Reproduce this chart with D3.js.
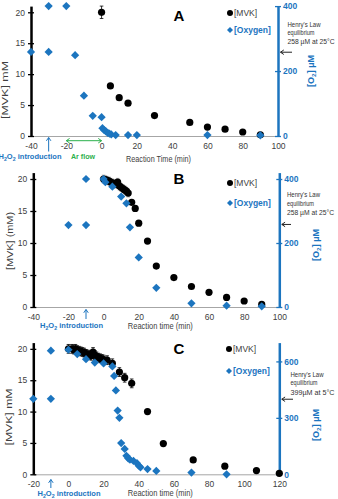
<!DOCTYPE html>
<html>
<head>
<meta charset="utf-8">
<script src="https://cdn.jsdelivr.net/npm/d3@7"></script>
<style>
  body { margin: 0; background: #fff; }
  text { font-family: "Liberation Sans", Arial, sans-serif; }
</style>
</head>
<body>
<svg id="chart" width="338" height="499"></svg>
<script>
// ---- data ----
const mvkTicks = [0, 5, 10, 15, 20];
const xTicksAB = [-40, -20, 0, 20, 40, 60, 80, 100];
const xTicksC = [-20, 0, 20, 40, 60, 80, 100, 120];
const o2TicksAB = [0, 200, 400];
const o2TicksC = [0, 300, 600];

// panel A
const timeMvkA = [0, 5, 10, 15, 30, 50, 60, 70, 80, 90];
const mvkA = [20.0, 8.1, 6.2, 5.3, 3.3, 2.2, 1.45, 1.1, 0.65, 0.2];
const mvkErrA = [1.0, 0, 0, 0, 0, 0, 0, 0, 0, 0];
const timeO2A = [-40, -30, -30, -20, -15, -10, -5, 0, 0.5, 1.5, 2.5, 3.5, 4.5, 5.5, 8, 15, 20, 60, 90];
const o2A = [259, 400, 259, 400, 249, 124, 62, 58, 24, 18, 14, 10, 7, 5, 3, 3, 3, 3, 2];

// panel B
const timeMvkB = [0, 1, 2, 3, 4, 5, 6, 7, 8, 9, 10, 11, 12, 13, 14, 16, 18, 20, 25, 30, 40, 50, 60, 70, 80, 90];
const mvkB = [20.0, 19.9, 19.8, 19.7, 19.5, 19.4, 19.3, 19.2, 19.5, 18.9, 18.7, 18.5, 18.3, 18.1, 17.8,
              16.35, 15.4, 13.1, 10.3, 6.4, 4.6, 3.2, 2.3, 1.5, 0.94, 0.4];
const mvkErrB = [0.6, 0.6, 0.6, 0.6, 0.6, 0.6, 0.6, 0.6, 0.6, 0.6, 0.6, 0.6, 0.6, 0.6, 0.6,
                 0.4, 0.4, 0.4, 0, 0, 0, 0, 0, 0, 0, 0];
const timeO2B = [-20, -10, -10, 0, 1, 5, 10, 13, 15, 20, 30, 50, 70, 90];
const o2B = [256, 400, 256, 400, 390, 376, 345, 324, 249, 155, 60, 11.5, 4, 2];

// panel C
const timeMvkC = [0, 2, 3, 4, 5, 6, 7, 8, 9, 10, 11, 12, 13, 14, 15, 16, 17, 18, 19, 20, 22,
                  25, 29, 32, 36, 45, 54, 71, 89, 107, 120];
const mvkC = [20, 20, 19.9, 20, 19.8, 19.7, 19.6, 19.5, 19.4, 19.2, 19.1, 19.0, 18.9, 19.5, 19.0,
              18.8, 18.6, 18.5, 18.4, 18.3, 18.2, 17.7, 16.3, 15.4, 14.5, 10, 4.9, 2.3, 1.3, 0.6, 0.15];
const mvkErrC = [0.7, 0.7, 0.7, 0.7, 0.7, 0.7, 0.7, 0.7, 0.7, 0.7, 0.7, 0.7, 0.7, 0.7, 0.7,
                 0.7, 0.7, 0.7, 0.7, 0.7, 0.7, 0.7, 0.7, 0.7, 0.7, 0, 0, 0, 0, 0, 0];
const timeO2C = [-20, -10, -10, 0, 5, 10, 15, 20, 25, 26, 27, 28, 29, 30, 32, 33, 34, 35, 37, 39, 40, 41, 45, 50, 70, 90];
const o2C = [401, 657, 401, 662, 639, 612, 594, 589, 573, 523, 446, 339, 300, 166, 135, 98, 85, 78, 71, 59, 46, 37, 28, 18, 9, 0];

// Henry's law equilibrium values (uM)
const henryA = 258, henryB = 258, henryC = 399;
const henryLinesAB = ["Henry's Law", "equilibrium", "258 µM at 25°C"];
const henryLinesC = ["Henry's Law", "equilibrium", "399µM at 5°C"];

// ---- layout ----
const blue = "#1c75bf", green = "#2bb04c", grey = "#404040";

const panels = [
  { letter: "A", letterY: 20.5, xDomain: [-40, 100], xRange: [31, 278], yRange: [136, 6.1], o2Max: 400,
    xTicks: xTicksAB, o2Ticks: o2TicksAB,
    tMvk: timeMvkA, mvk: mvkA, err: mvkErrA, errColor: "#000", tO2: timeO2A, o2: o2A,
    yTitle: "[MVK] mM", yTitleX: 7.5, yTitleY: 90, yTitleLen: 58,
    o2TitleX: 314, o2TitleY: 71,
    xTitle: "Reaction Time (min)", xTitleY: 161.5,
    legX: 230, legY: [13, 30],
    henry: henryA, henryLines: henryLinesAB, henryX: 287.5, henryY: [26.7, 35, 44.3], henryLen: [33, 27, 47], henryArrowX: 292,
    h2o2At: -30, h2o2Y: [151.5, 137.5], h2o2TextX: 30, h2o2TextY: 159,
    arFlow: [-20, 0], arY: 140.7, arTextX: 83, arTextY: 159 },
  { letter: "B", letterY: 183.5, xDomain: [-40, 100], xRange: [33.3, 279.3], yRange: [307, 172.6], o2Max: 420,
    xTicks: xTicksAB, o2Ticks: o2TicksAB,
    tMvk: timeMvkB, mvk: mvkB, err: mvkErrB, errColor: "#9a9a9a", tO2: timeO2B, o2: o2B,
    yTitle: "[MVK] (mM)", yTitleX: 12.5, yTitleY: 241, yTitleLen: 58,
    o2TitleX: 319, o2TitleY: 245,
    xTitle: "Reaction time (min)", xTitleY: 328.5,
    legX: 230, legY: [183, 203],
    henry: henryB, henryLines: henryLinesAB, henryX: 287, henryY: [196.7, 206, 215], henryLen: [33, 27, 47], henryArrowX: 291,
    h2o2At: -10, h2o2Y: [319, 309.5], h2o2TextX: 71.5, h2o2TextY: 328 },
  { letter: "C", letterY: 354, xDomain: [-20, 120], xRange: [33.3, 279.3], yRange: [474.3, 342.6], o2Max: 700,
    xTicks: xTicksC, o2Ticks: o2TicksC,
    tMvk: timeMvkC, mvk: mvkC, err: mvkErrC, errColor: "#000", tO2: timeO2C, o2: o2C,
    yTitle: "[MVK] mM", yTitleX: 12, yTitleY: 417, yTitleLen: 57,
    o2TitleX: 319, o2TitleY: 425,
    xTitle: "Reaction time (min)", xTitleY: 496,
    legX: 229, legY: [349, 371],
    henry: henryC, henryLines: henryLinesC, henryX: 290.5, henryY: [376.7, 385.3, 395], henryLen: [33, 27, 44], henryArrowX: 293,
    h2o2At: -10, h2o2Y: [488, 479.5], h2o2TextX: 69, h2o2TextY: 495.5 }
];

const svg = d3.select("#chart");
const diamond = d3.symbol().type(d3.symbolSquare).size(34);
const diamondSmall = d3.symbol().type(d3.symbolSquare).size(18);

// arrow: line from (x1,y1) to (x2,y2), open head at the end (and start if both)
function arrow(g, x1, y1, x2, y2, color, both) {
  g.append("line").attr("x1", x1).attr("y1", y1).attr("x2", x2).attr("y2", y2)
    .attr("stroke", color).attr("stroke-width", 1);
  const head = (xa, ya, xb, yb) => {
    const a = Math.atan2(yb - ya, xb - xa), L = 4;
    const p1 = [xb - L * Math.cos(a - 0.6), yb - L * Math.sin(a - 0.6)];
    const p2 = [xb - L * Math.cos(a + 0.6), yb - L * Math.sin(a + 0.6)];
    g.append("path").attr("d", `M${p1}L${xb},${yb}L${p2}`)
      .attr("fill", "none").attr("stroke", color).attr("stroke-width", 1);
  };
  head(x1, y1, x2, y2);
  if (both) head(x2, y2, x1, y1);
}

// text with subscript parts
function subText(t, parts) {
  let back = null;
  parts.forEach(([s, sub]) => {
    const ts = t.append("tspan").text(s);
    if (sub) {
      ts.attr("font-size", "0.7em").attr("dy", 2);
      back = -2;
    } else if (back !== null) {
      ts.attr("dy", back);
      back = null;
    }
  });
}

panels.forEach(p => {
  const g = svg.append("g");
  const x = d3.scaleLinear().domain(p.xDomain).range(p.xRange);
  const y = d3.scaleLinear().domain([0, 21]).range(p.yRange);
  const y2 = d3.scaleLinear().domain([0, p.o2Max]).range(p.yRange);

  // bottom axis
  const xa = g.append("g").attr("transform", `translate(0,${p.yRange[0]})`)
    .call(d3.axisBottom(x).tickValues(p.xTicks).tickSize(0).tickPadding(7).tickFormat(d => String(d)));
  xa.select(".domain").attr("stroke", "#a6a6a6").attr("stroke-width", 1);
  xa.selectAll("text").attr("font-size", 8.5).attr("fill", grey).attr("font-family", null);

  // left axis
  const ya = g.append("g").attr("transform", `translate(${p.xRange[0]},0)`)
    .call(d3.axisLeft(y).tickValues(mvkTicks).tickSizeInner(3).tickSizeOuter(0));
  ya.select(".domain").attr("stroke", "#000").attr("stroke-width", 2.5);
  ya.selectAll(".tick line").attr("x1", 3).attr("stroke", "#000").attr("stroke-width", 1.3);
  ya.selectAll("text").attr("x", -6).attr("font-size", 8.5).attr("fill", grey).attr("font-family", null);

  // right axis
  const ra = g.append("g").attr("transform", `translate(${p.xRange[1]},0)`)
    .call(d3.axisRight(y2).tickValues(p.o2Ticks).tickSizeInner(3).tickSizeOuter(0));
  ra.select(".domain").attr("stroke", blue).attr("stroke-width", 2.5);
  ra.selectAll(".tick line").attr("x1", -3).attr("stroke", blue).attr("stroke-width", 1.3);
  ra.selectAll("text").attr("x", 5).attr("font-size", 8.5).attr("font-weight", "bold")
    .attr("fill", blue).attr("font-family", null);

  // error bars
  const eb = p.tMvk.map((t, i) => ({ t, v: p.mvk[i], e: p.err[i] })).filter(d => d.e > 0);
  const ebg = g.append("g").attr("stroke", p.errColor).attr("stroke-width", 0.8);
  ebg.selectAll("line.v").data(eb).join("line")
    .attr("x1", d => x(d.t)).attr("x2", d => x(d.t))
    .attr("y1", d => y(d.v - d.e)).attr("y2", d => y(d.v + d.e));
  ebg.selectAll("line.t").data(eb).join("line")
    .attr("x1", d => x(d.t) - 1.8).attr("x2", d => x(d.t) + 1.8)
    .attr("y1", d => y(d.v + d.e)).attr("y2", d => y(d.v + d.e));
  ebg.selectAll("line.b").data(eb).join("line")
    .attr("x1", d => x(d.t) - 1.8).attr("x2", d => x(d.t) + 1.8)
    .attr("y1", d => y(d.v - d.e)).attr("y2", d => y(d.v - d.e));

  // MVK circles
  g.append("g").selectAll("circle").data(p.tMvk).join("circle")
    .attr("cx", d => x(d)).attr("cy", (d, i) => y(p.mvk[i])).attr("r", 3.6).attr("fill", "#000");

  // oxygen diamonds
  g.append("g").selectAll("path").data(p.tO2).join("path")
    .attr("d", diamond)
    .attr("transform", (d, i) => `translate(${x(d)},${y2(p.o2[i])}) rotate(45)`)
    .attr("fill", blue);

  // panel letter
  g.append("text").attr("x", 179).attr("y", p.letterY).attr("text-anchor", "middle")
    .attr("font-size", 15).attr("font-weight", "bold").text(p.letter);

  // legend
  g.append("circle").attr("cx", p.legX).attr("cy", p.legY[0]).attr("r", 3).attr("fill", "#000");
  g.append("text").attr("x", p.legX + 4).attr("y", p.legY[0] + 3).attr("font-size", 8.5)
    .attr("fill", grey).text("[MVK]");
  g.append("path").attr("d", diamondSmall).attr("fill", blue)
    .attr("transform", `translate(${p.legX},${p.legY[1]}) rotate(45)`);
  g.append("text").attr("x", p.legX + 4).attr("y", p.legY[1] + 3).attr("font-size", 8.5)
    .attr("font-weight", "bold").attr("fill", blue).text("[Oxygen]");

  // Henry's law note
  p.henryLines.forEach((s, i) => {
    g.append("text").attr("x", p.henryX).attr("y", p.henryY[i]).attr("font-size", 7)
      .attr("fill", "#333").attr("textLength", p.henryLen[i]).attr("lengthAdjust", "spacingAndGlyphs").text(s);
  });
  arrow(g, p.henryArrowX, y2(p.henry), p.xRange[1] + 2.5, y2(p.henry), "#222", false);

  // axis titles
  g.append("text").attr("transform", `translate(${(p.xRange[0] + p.xRange[1]) / 2 + 4},${p.xTitleY})`)
    .attr("text-anchor", "middle").attr("font-size", 8.5).attr("fill", grey)
    .attr("textLength", 65).attr("lengthAdjust", "spacingAndGlyphs").text(p.xTitle);
  g.append("text").attr("transform", `translate(${p.yTitleX},${p.yTitleY}) rotate(-90)`)
    .attr("text-anchor", "middle").attr("font-size", 8.5).attr("fill", grey)
    .attr("textLength", p.yTitleLen).attr("lengthAdjust", "spacingAndGlyphs").text(p.yTitle);
  const o2t = g.append("text").attr("transform", `translate(${p.o2TitleX},${p.o2TitleY}) rotate(-90)`)
    .attr("text-anchor", "middle").attr("font-size", 8.5).attr("font-weight", "bold").attr("fill", blue)
    .attr("textLength", 32).attr("lengthAdjust", "spacingAndGlyphs");
  subText(o2t, [["[O", false], ["2", true], ["] µM", false]]);

  // H2O2 introduction
  arrow(g, x(p.h2o2At), p.h2o2Y[0], x(p.h2o2At), p.h2o2Y[1], blue, false);
  const ht = g.append("text").attr("x", p.h2o2TextX).attr("y", p.h2o2TextY).attr("text-anchor", "middle")
    .attr("font-size", 8).attr("font-weight", "bold").attr("fill", blue)
    .attr("textLength", 63).attr("lengthAdjust", "spacingAndGlyphs");
  subText(ht, [["H", false], ["2", true], ["O", false], ["2", true], [" introduction", false]]);

  // Ar flow
  if (p.arFlow) {
    arrow(g, x(p.arFlow[0]), p.arY, x(p.arFlow[1]), p.arY, green, true);
    g.append("text").attr("x", p.arTextX).attr("y", p.arTextY).attr("text-anchor", "middle")
      .attr("font-size", 8).attr("font-weight", "bold").attr("fill", green)
      .attr("textLength", 24).attr("lengthAdjust", "spacingAndGlyphs").text("Ar flow");
  }
});
</script>
</body>
</html>
